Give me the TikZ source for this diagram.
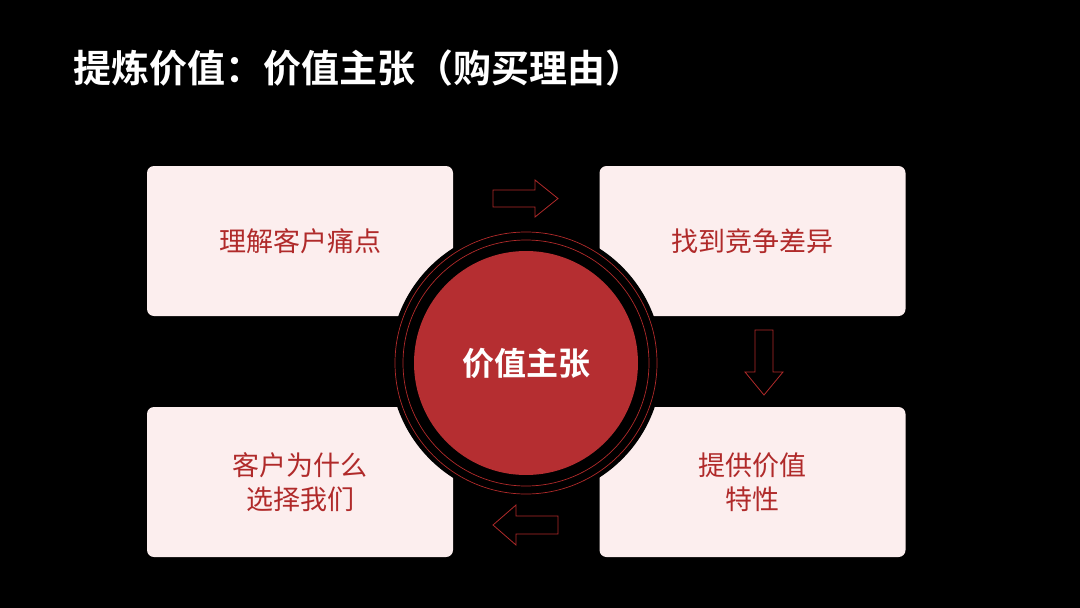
\documentclass[tikz,border=0pt]{standalone}
\usepackage{fontspec}
\newfontfamily\cjk{Noto Sans CJK SC}
\newfontfamily\cjkb{Noto Sans CJK SC Bold}
\definecolor{boxfill}{HTML}{FCEEEE}
\definecolor{redtxt}{HTML}{B02A2A}
\definecolor{redc}{HTML}{B52E31}
\tikzset{
  card/.style={fill=boxfill,rounded corners=7pt,minimum width=306pt,minimum height=150pt,text=redtxt,font=\cjk\fontsize{27}{34}\selectfont,align=center},
  arr/.style={draw=redtxt,line width=0.8pt}
}
\begin{document}
\begin{tikzpicture}[x=1pt,y=-1pt]
\fill[black] (0,0) rectangle (1080,608);
\useasboundingbox (0,0) rectangle (1080,608);
\node[anchor=west,text=white,font=\cjkb\fontsize{38}{40}\selectfont] (title) at (70,68) {提炼价值：价值主张（购买理由）};
\node[card] (a) at (300,241) {理解客户痛点};
\node[card] (b) at (752.5,241) {找到竞争差异};
\node[card] (c) at (752.5,482) {提供价值\\特性};
\node[card] (d) at (300,482) {客户为什么\\选择我们};
\fill[black] (526,363) circle (136);
\draw[redtxt,line width=0.7pt] (526,363) circle (131);
\draw[redtxt,line width=0.7pt] (526,363) circle (123);
\node[circle,fill=redc,minimum size=224pt,inner sep=0pt,text=white,font=\cjkb\fontsize{32}{34}\selectfont] (m) at (526,363) {价值主张};
\draw[arr] (493,190) -- (535,190) -- (535,180) -- (558,198.5) -- (535,217) -- (535,207) -- (493,207) -- cycle;
\draw[arr] (755,330) -- (773,330) -- (773,372) -- (783,372) -- (764,395) -- (745,372) -- (755,372) -- cycle;
\draw[arr] (558,516) -- (516,516) -- (516,505) -- (493,525) -- (516,545) -- (516,534) -- (558,534) -- cycle;
\end{tikzpicture}
\end{document}
